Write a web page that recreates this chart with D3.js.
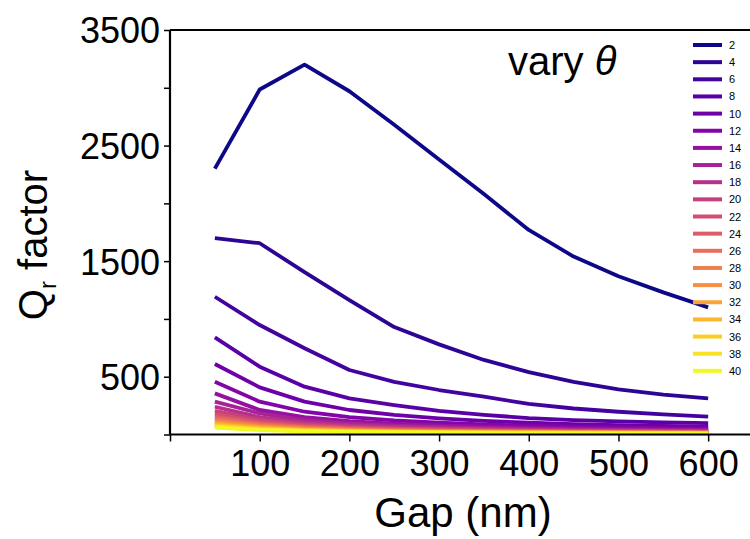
<!DOCTYPE html>
<html>
<head>
<meta charset="utf-8">
<script src="https://cdn.jsdelivr.net/npm/d3@7"></script>
<style>
  body { margin: 0; background: #fff; }
  text { font-family: "Liberation Sans", Arial, sans-serif; }
</style>
</head>
<body>
<script>
const w = 750;
const h = 539;

// gap values (nm), same for every curve
const gaps = [50, 100, 150, 200, 250, 300, 350, 400, 450, 500, 550, 600];
const thetas = [2, 4, 6, 8, 10, 12, 14, 16, 18, 20, 22, 24, 26, 28, 30, 32, 34, 36, 38, 40];

// Q_r factor, one array per theta
const q2  = [2300, 2985, 3200, 2970, 2680, 2380, 2080, 1770, 1540, 1370, 1230, 1100];
const q4  = [1700, 1655, 1405, 1163, 930, 780, 645, 540, 455, 390, 345, 313];
const q6  = [1192, 947, 746, 558, 455, 385, 327, 265, 225, 197, 175, 155];
const q8  = [841, 587, 414, 313, 255, 205, 170, 142, 124, 113, 105, 98];
const q10 = [610, 408, 284, 212, 170, 140, 118, 102, 90, 80, 74, 68];
const q12 = [457, 284, 197, 151, 122, 102, 88, 77, 68, 61, 56, 52];
const q14 = [356, 212, 151, 116, 94, 79, 68, 60, 53, 48, 44, 41];
const q16 = [284, 183, 125, 95, 77, 65, 56, 49, 44, 40, 37, 34];
const q18 = [240, 150, 105, 80, 65, 55, 47, 41, 37, 34, 31, 29];
const q20 = [205, 128, 90, 69, 56, 47, 41, 36, 32, 29, 27, 25];
const q22 = [178, 112, 79, 60, 49, 41, 36, 31, 28, 26, 24, 22];
const q24 = [155, 98, 69, 53, 43, 36, 31, 28, 25, 23, 21, 19];
const q26 = [137, 87, 61, 47, 38, 32, 28, 25, 22, 20, 19, 17];
const q28 = [120, 77, 54, 42, 34, 29, 25, 22, 20, 18, 17, 16];
const q30 = [107, 69, 48, 37, 30, 26, 22, 20, 18, 16, 15, 14];
const q32 = [95, 61, 43, 33, 27, 23, 20, 18, 16, 15, 14, 13];
const q34 = [85, 55, 39, 30, 24, 21, 18, 16, 15, 13, 12, 11];
const q36 = [76, 49, 35, 27, 22, 19, 16, 15, 13, 12, 11, 10];
const q38 = [68, 44, 31, 24, 20, 17, 15, 13, 12, 11, 10, 9];
const q40 = [60, 39, 28, 22, 18, 15, 13, 12, 11, 10, 9, 8];

const xTicks = [0, 100, 200, 300, 400, 500, 600];
const yTicks = [0, 500, 1000, 1500, 2000, 2500, 3000, 3500];
const yLabelled = [500, 1500, 2500, 3500];

const allQ = [q2, q4, q6, q8, q10, q12, q14, q16, q18, q20,
              q22, q24, q26, q28, q30, q32, q34, q36, q38, q40];

const series = thetas.map((t, i) => ({
    theta: t,
    values: gaps.map((g, j) => ({ gap: g, q: allQ[i][j] }))
}));

const svg = d3.select("body").append("svg").attr("width", w).attr("height", h);

const plotLeft = 170, plotRight = 753, plotTop = 30, plotBottom = 434.5;

const xScale = d3.scaleLinear().domain([0, 650]).range([plotLeft, plotRight]);
const yScale = d3.scaleLinear().domain([0, 3500]).range([plotBottom, plotTop]);

const color = d3.scaleSequential(d3.interpolatePlasma).domain([0, thetas.length - 1]);

// lines
const line = d3.line().x(d => xScale(d.gap)).y(d => yScale(d.q));

svg.append("g")
    .selectAll("path")
    .data(series)
    .enter()
    .append("path")
    .attr("d", d => line(d.values))
    .attr("fill", "none")
    .attr("stroke", (d, i) => color(i))
    .attr("stroke-width", 3.8)
    .attr("stroke-linejoin", "round");

// top frame line
svg.append("line")
    .attr("x1", plotLeft).attr("x2", plotRight)
    .attr("y1", plotTop).attr("y2", plotTop)
    .attr("stroke", "#000").attr("stroke-width", 2);

// axes
const xAxis = d3.axisBottom(xScale).tickValues(xTicks).tickSize(7).tickPadding(9)
    .tickFormat(d => d === 0 ? "" : d);
const yAxis = d3.axisLeft(yScale).tickValues(yTicks).tickSize(6).tickPadding(4)
    .tickFormat(d => yLabelled.includes(d) ? d : "");

const gx = svg.append("g")
    .attr("transform", "translate(0," + plotBottom + ")")
    .call(xAxis);
const gy = svg.append("g")
    .attr("transform", "translate(" + plotLeft + ",0)")
    .call(yAxis);

[gx, gy].forEach(g => {
    g.select(".domain").attr("stroke-width", 2.2).attr("stroke", "#000");
    g.selectAll(".tick line").attr("stroke-width", 1.5).attr("stroke", "#000");
    g.selectAll(".tick text").attr("fill", "#000")
        .style("font-family", "'Liberation Sans', Arial, sans-serif")
        .style("font-size", "36px");
});
gx.select(".domain").attr("d", "M" + plotLeft + ",0H" + w);
gy.select(".domain").attr("d", "M0," + plotBottom + "V" + plotTop);
gx.selectAll(".tick text").attr("dy", "0.72em");
gy.selectAll(".tick text").attr("dy", "0.36em");

// axis titles
svg.append("text")
    .attr("x", 463)
    .attr("y", 527)
    .attr("text-anchor", "middle")
    .style("font-size", "42px")
    .text("Gap (nm)");

const ylab = svg.append("text")
    .attr("transform", "translate(47,245) rotate(-90)")
    .attr("text-anchor", "middle")
    .style("font-size", "40px");
ylab.append("tspan").text("Q");
ylab.append("tspan").attr("dy", 9).style("font-size", "24px").text("r");
ylab.append("tspan").attr("dy", -9).text(" factor");

// annotation
const ann = svg.append("text")
    .attr("x", 508)
    .attr("y", 75)
    .style("font-size", "40px");
ann.append("tspan").text("vary ");
ann.append("tspan").style("font-style", "italic").text("θ");

// legend
const legend = svg.append("g");
const rowH = 17.15;
series.forEach((s, i) => {
    const y = 45 + i * rowH;
    legend.append("line")
        .attr("x1", 693).attr("x2", 722)
        .attr("y1", y).attr("y2", y)
        .attr("stroke", color(i))
        .attr("stroke-width", 4);
    legend.append("text")
        .attr("x", 729)
        .attr("y", y + 4)
        .style("font-size", "11px")
        .text(s.theta);
});
</script>
</body>
</html>
